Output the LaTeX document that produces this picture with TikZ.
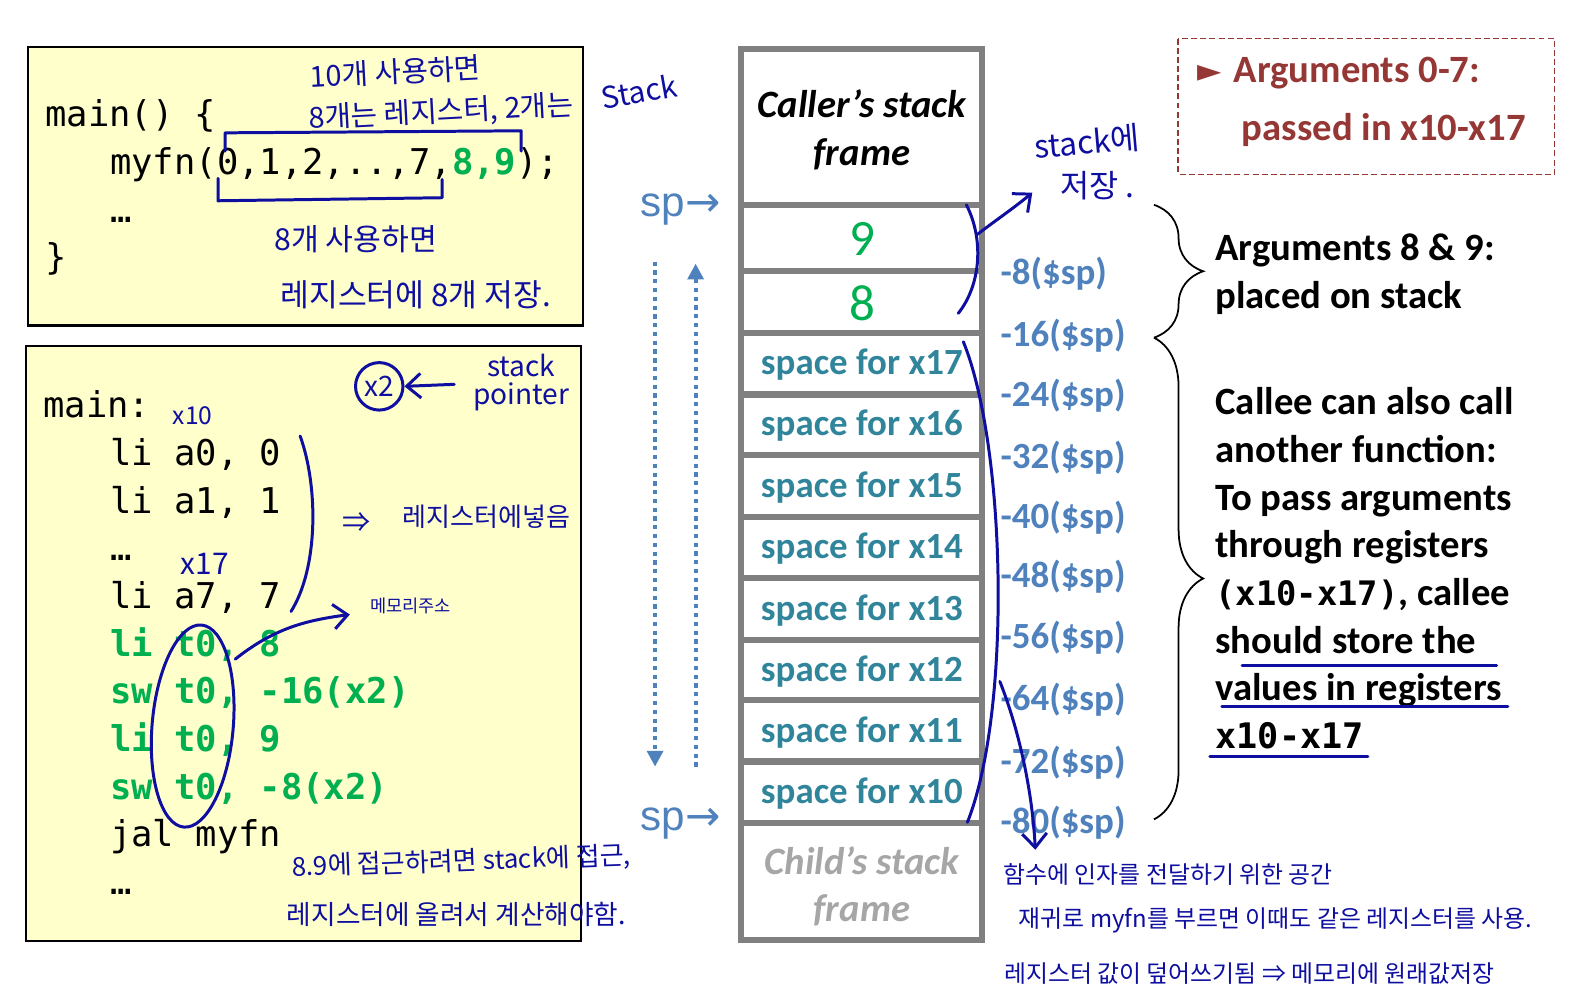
\documentclass[tikz,border=0pt]{standalone}
\usepackage{fontspec}
\setmainfont{Carlito}
\setmonofont{DejaVu Sans Mono}
\newfontfamily\kor{Noto Sans CJK KR}
\newfontfamily\arialfont{Liberation Sans}
\newfontfamily\symfont{DejaVu Sans}
\usepackage{tikz}
\usetikzlibrary{arrows.meta,positioning,calc,decorations.pathreplacing}
\definecolor{paper}{RGB}{255,255,204}
\definecolor{argreen}{RGB}{0,176,80}
\definecolor{slotteal}{RGB}{49,133,155}
\definecolor{spblue}{RGB}{79,129,189}
\definecolor{boxred}{RGB}{149,55,53}
\definecolor{wallgray}{RGB}{128,128,128}
\definecolor{childgray}{RGB}{166,166,166}
\definecolor{pen}{RGB}{14,14,160}
\tikzset{memo/.style={draw=black,line width=0.6pt,fill=paper},
code/.style={anchor=base west,inner sep=0pt,font=\ttfamily\fontsize{10.1}{12}\selectfont},
hot/.style={code,text=argreen,font=\ttfamily\bfseries\fontsize{10.1}{12}\selectfont},
wall/.style={draw=wallgray,line width=1.75pt},
cell/.style={inner sep=0pt,font=\bfseries\fontsize{10.5}{12}\selectfont,text=slotteal},
argval/.style={inner sep=0pt,font=\fontsize{14.5}{16}\selectfont,text=argreen},
frametxt/.style={inner sep=0pt,align=center,font=\bfseries\itshape\fontsize{11}{13.56}\selectfont},
off/.style={anchor=west,inner sep=0pt,font=\bfseries\fontsize{10.5}{12}\selectfont,text=spblue},
spmark/.style={inner sep=0pt,font=\arialfont\fontsize{12}{14}\selectfont,text=spblue},
walk/.style={draw=spblue,line width=1.2pt,dash pattern=on 1.2pt off 1.3pt,-{Triangle[length=4.5pt,width=4.5pt]}},
note/.style={anchor=base west,inner sep=0pt,align=left,font=\bfseries\fontsize{11}{13.56}\selectfont},
redtxt/.style={anchor=west,inner sep=0pt,text=boxred,font=\bfseries\fontsize{11}{13}\selectfont},
hand/.style={inner sep=0pt,text=pen,font=\kor\fontsize{#1}{#1}\selectfont},hand/.default=8,
ink/.style={draw=pen,line width=0.85pt,line cap=round,line join=round},
inkto/.style={ink,-{Straight Barb[length=4pt,width=7pt]}},
brc/.style={draw=black,line width=0.5pt,decorate,decoration={brace,amplitude=14pt}}}

\begin{document}
\begin{tikzpicture}[x=0.1014mm,y=-0.1014mm]
\useasboundingbox (0,0) rectangle (1568,986);

% C code
\draw[memo] (28,46) rectangle (575,321);
\node[code] (c1) at (44,125) {main() \{};
\node[code] (c2) at (108,172) {myfn(0,1,2,..,7,{\bfseries\color{argreen}8,9});};
\node[code] (c3) at (108,219) {…};
\node[code] (c4) at (44,266) {\}};

% assembly
\draw[memo] (26,341) rectangle (573,928);
\node[code] (m0) at (42,412) {main:};
\node[code] (m1) at (108,459) {li a0, 0};
\node[code] (m2) at (108,506) {li a1, 1};
\node[code] (m3) at (108,553) {…};
\node[code] (m4) at (108,600) {li a7, 7};
\node[hot] (m5) at (108,647) {li t0, 8};
\node[hot] (m6) at (108,694) {sw t0, -16(x2)};
\node[hot] (m7) at (108,741) {li t0, 9};
\node[hot] (m8) at (108,788) {sw t0, -8(x2)};
\node[code] (m9) at (108,835) {jal myfn};
\node[code] (m10) at (108,882) {…};

% stack
\draw[wall] (731,48) rectangle (968,927);
\foreach \y in {202,267,328,389,449,510,570,631,690,751,812}
  \draw[wall] (731,\y) -- (968,\y);
\node[frametxt] (caller) at (850,128) {Caller’s stack\\frame};
\node[argval] (a9) at (850,236) {9};
\node[argval] (a8) at (850,299) {8};
\foreach \r/\y in {17/360,16/420,15/481,14/541,13/602,12/662,11/722,10/783}
  \node[cell] (s\r) at (850,\y) {space for x\r};
\node[frametxt,text=childgray] (child) at (850,874) {Child’s stack\\frame};
\foreach \k/\y in {8/270,16/331,24/390,32/451,40/511,48/569,56/629,64/690,72/752,80/811}
  \node[off] (o\k) at (986,\y) {-\k(\$sp)};

% stack pointer
\node[spmark] (sptop) at (671,207) {sp{\symfont→}};
\node[spmark] (spbot) at (671,812) {sp{\symfont→}};
\coordinate (dn1) at (646,258);
\coordinate (dn2) at (646,756);
\coordinate (up1) at (686,756);
\coordinate (up2) at (686,260);
\draw[walk] (dn1) -- (dn2);
\draw[walk] (up1) -- (up2);

% right notes
\draw[boxred,line width=0.5pt,dash pattern=on 1.7pt off 0.9pt] (1162,38) rectangle (1533,172);
\node[redtxt] (tri) at (1180,72) {\symfont\fontsize{9}{10}\selectfont ►};
\node[redtxt] (a07) at (1216,72) {Arguments 0-7:};
\node[redtxt] (pass) at (1224,128) {passed in x10-x17};
\draw[brc] (1138,202) -- (1138,333);
\draw[brc] (1138,333) -- (1138,808);
\node[note] (onstack) at (1198,304) {Arguments 8 \& 9:\\placed on stack};
\node[note] (callee) at (1198,738) {Callee can also call\\another function:\\To pass arguments\\through registers\\{\ttfamily\fontsize{9.6}{13.56}\selectfont(x10-x17)}, callee\\should store the\\values in registers\\{\ttfamily\fontsize{10}{13.56}\selectfont x10-x17}};

% handwritten notes
\node[hand=8.2,rotate=3] (h1) at (390,71) {10개 사용하면};
\node[hand=8.2,rotate=3] (h2) at (435,111) {8개는 레지스터, 2개는};
\node[hand=8.5,rotate=10] (h3) at (630,90) {Stack};
\draw[ink] (222,149) -- (222,131) -- (514,129) -- (514,149);
\draw[ink] (215,176) -- (215,198) -- (436,195) -- (436,177);
\node[hand=8.6] (h4) at (351,236) {8개 사용하면};
\node[hand=8.9] (h5) at (410,291) {레지스터에 8개 저장.};

\node[hand=8,draw=pen,circle,line width=0.85pt,minimum size=13.5pt] (xtwo) at (374,381) {x2};
\node[hand=8,align=center] (spnote) at (514,377) {stack\\pointer};
\draw[inkto] ($(spnote.west)+(-18,2)$) -- (xtwo.east);
\node[hand=7] (x10) at (190,410) {x10};
\node[hand=8.5] (x17) at (202,556) {x17};
\draw[ink] (296,430) .. controls (314,480) and (314,560) .. (287,603);
\node[hand=8] (dbl) at (352,515) {⇒};
\node[hand=7.4] (h6) at (480,510) {레지스터에넣음};
\node[hand=5] (h7) at (405,598) {메모리주소};
\draw[ink,rotate around={-5:(190,716)}] (190,716) ellipse [x radius=40,y radius=100];
\draw[inkto] (232,650) .. controls (270,620) and (300,612) .. (345,606);
\node[hand=7.4,rotate=2] (h8) at (455,850) {8.9에 접근하려면 stack에 접근,};
\node[hand=7.6] (h9) at (450,902) {레지스터에 올려서 계산해야함.};

\draw[ink] (953,202) .. controls (970,235) and (968,280) .. (945,309);
\draw[inkto] (964,231) .. controls (985,215) and (1000,205) .. (1018,190);
\node[hand=9,rotate=5] (h10) at (1072,140) {stack에};
\node[hand=9] (h11) at (1082,183) {저장 .};
\draw[ink] (950,337) .. controls (992,440) and (998,700) .. (954,811);
\draw[inkto] (986,672) .. controls (1005,720) and (1018,780) .. (1021,838);
\node[hand=6.8] (h12) at (1152,862) {함수에 인자를 전달하기 위한 공간};
\node[hand=6.8] (h13) at (1258,908) {재귀로 myfn를 부르면 이때도 같은 레지스터를 사용.};
\node[hand=6.8] (h14) at (1232,960) {레지스터 값이 덮어쓰기됨 ⇒ 메모리에 원래값저장};
\draw[ink] (1225,656) -- (1476,656);
\draw[ink] (1205,697) -- (1487,697);
\draw[ink] (1193,746) -- (1349,746);
\end{tikzpicture}
\end{document}
